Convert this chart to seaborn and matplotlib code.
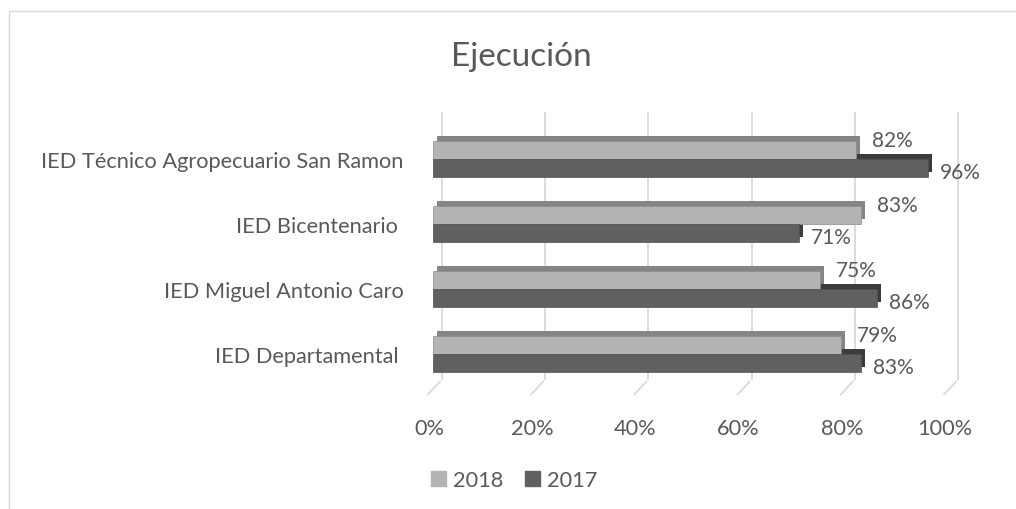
import pandas as pd
import matplotlib.pyplot as plt
import matplotlib.transforms as mtransforms
from matplotlib.lines import Line2D
import seaborn as sns

# datos
instituciones = ['IED Técnico Agropecuario San Ramon', 'IED Bicentenario ',
                 'IED Miguel Antonio Caro', 'IED Departamental ']
anios = ['2018', '2017']
ejec_2018 = [82, 83, 75, 79]
ejec_2017 = [96, 71, 86, 83]
ticks = [0, 20, 40, 60, 80, 100]

df = pd.DataFrame({
    'institucion': instituciones * 2,
    'anio': [anios[0]] * 4 + [anios[1]] * 4,
    'valor': ejec_2018 + ejec_2017,
})

sns.set_style('white')
plt.rcParams['font.family'] = ['Lato', 'DejaVu Sans']
gris_txt = '#595959'
colores = {'2018': '#B4B4B4', '2017': '#606060'}
lados = {'2018': '#858585', '2017': '#3C3C3C'}

fig = plt.figure(figsize=(10.16, 5.10), dpi=100)
ax = fig.add_axes([433 / 1016, 1 - 387.5 / 510, 516 / 1016, 260 / 510])

sns.barplot(data=df, x='valor', y='institucion', hue='anio', hue_order=anios,
            palette=colores, orient='h', width=0.56, ax=ax, legend=False,
            saturation=1, zorder=3)

ax.set_xlim(0, 100)
ax.set_ylim(3.5, -0.5)

# cara trasera (efecto 3D) para cada barra
prof = mtransforms.offset_copy(ax.transData, fig=fig, x=4, y=5, units='dots')
barras = list(ax.patches)
for i, p in enumerate(barras):
    serie = anios[i // 4]
    sombra = plt.Rectangle((p.get_x(), p.get_y()), p.get_width(), p.get_height(),
                           transform=prof, facecolor=lados[serie], edgecolor='none',
                           zorder=2)
    ax.add_patch(sombra)
    p.set_edgecolor('#8C8C8C' if serie == '2018' else '#505050')
    p.set_linewidth(0.5)

# lineas de division en el plano de fondo
fondo = mtransforms.offset_copy(ax.transData, fig=fig, x=9, y=7, units='dots')
ax.vlines(ticks, ymin=3.5, ymax=-0.62, transform=fondo, color='#D9D9D9',
          lw=1.3, zorder=0, clip_on=False)
for t in ticks:
    ax.annotate('', xy=(t, 3.5), xycoords=fondo, xytext=(-16, -17),
                textcoords='offset pixels', annotation_clip=False,
                arrowprops=dict(arrowstyle='-', color='#D9D9D9', lw=1.3))

# etiquetas de datos
for i, p in enumerate(barras):
    serie = anios[i // 4]
    val = p.get_width()
    yc = p.get_y() + p.get_height() / 2
    if serie == '2018':
        off = (16, 10)
    else:
        off = (12, -4)
    ax.annotate(f'{val:.0f}%', xy=(val, yc), xytext=off, textcoords='offset pixels',
                ha='left', va='center', fontsize=15, color=gris_txt,
                annotation_clip=False)

ax.set_xticks(ticks)
ax.set_xticklabels([f'{t}%' for t in ticks])
ax.tick_params(axis='x', length=0, pad=23, labelsize=15.7, labelcolor=gris_txt)
ax.tick_params(axis='y', length=0, pad=21, labelsize=15.7, labelcolor=gris_txt)
desplaza = mtransforms.ScaledTranslation(-4 / 100, 0, fig.dpi_scale_trans)
for lab in ax.get_xticklabels():
    lab.set_transform(lab.get_transform() + desplaza)
ax.set_xlabel('')
ax.set_ylabel('')
for s in ax.spines.values():
    s.set_visible(False)
ax.set_facecolor('none')

fig.text(521 / 1016, 1 - 57 / 510, 'Ejecución', ha='center', va='center',
         fontsize=24, color=gris_txt)

# leyenda
manijas = [plt.Rectangle((0, 0), 1, 1, color=colores[a]) for a in anios]
fig.legend(manijas, anios, loc='center', bbox_to_anchor=(514 / 1016, 1 - 481 / 510),
           ncol=2, frameon=False, fontsize=15.7, labelcolor=gris_txt,
           handlelength=0.7, handleheight=0.7, handletextpad=0.3, columnspacing=1.0)

# borde del area del grafico
fig.add_artist(Line2D([9 / 1016, 1], [1 - 12 / 510] * 2, color='#D9D9D9', lw=1))
fig.add_artist(Line2D([9 / 1016] * 2, [0, 1 - 12 / 510], color='#D9D9D9', lw=1))

fig.savefig('out.png', dpi=100, facecolor='white')
